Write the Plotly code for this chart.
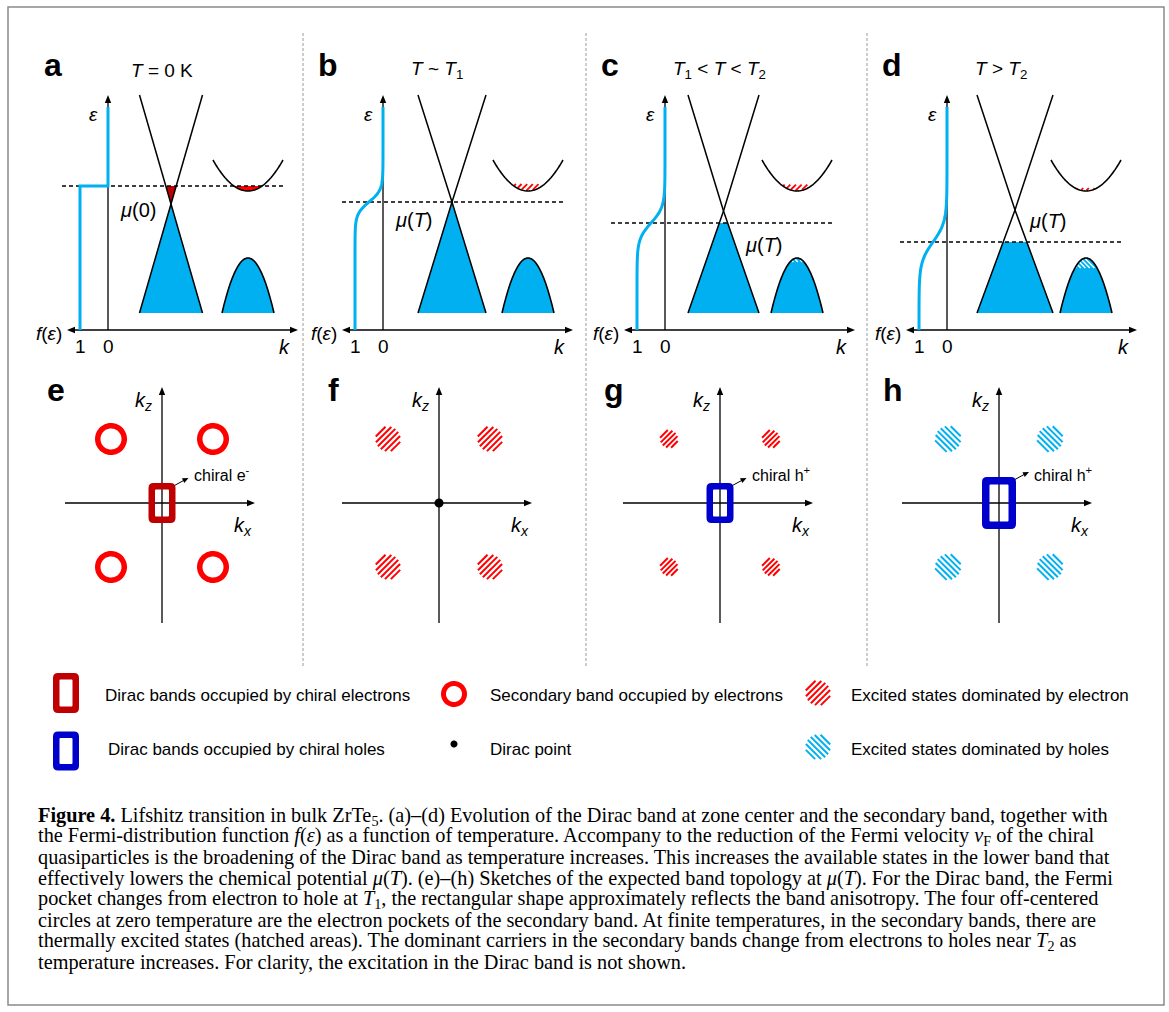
import numpy as np
import plotly.graph_objects as go

W, H = 1169, 1012
CYAN = "#00B0F0"
RED = "#FF0000"
DARK_RED = "#C00000"
BLUE = "#0000CC"
SANS = "Liberation Sans, Arial, sans-serif"
SERIF = "Liberation Serif, Times New Roman, serif"

# ---------------------------------------------------------------------------
# (a)-(d) band sketches. Energies are sketch units measured upward from the
# k axis; momenta are measured from the energy axis of each panel.
# ---------------------------------------------------------------------------
TOP_LETTERS = ["a", "b", "c", "d"]
TOP_TITLES = ["<i>T</i> = 0 K",
              "<i>T</i> ~ <i>T</i><sub>1</sub>",
              "<i>T</i><sub>1</sub> &lt; <i>T</i> &lt; <i>T</i><sub>2</sub>",
              "<i>T</i> &gt; <i>T</i><sub>2</sub>"]
MU_TEXT = ["<i>μ</i>(0)", "<i>μ</i>(<i>T</i>)", "<i>μ</i>(<i>T</i>)", "<i>μ</i>(<i>T</i>)"]
CHEM_POTENTIAL = [144, 128, 107, 88]      # μ(T)
THERMAL_WIDTH = [0, 6, 8, 10]             # k_B T entering f(ε)
DIRAC_E = [126, 128, 119, 120]            # Dirac point energy
DIRAC_K = [63, 69, 58.5, 68]              # Dirac point momentum
DIRAC_HW = [31.5, 34, 35.5, 38]           # cone half width at its ends
SECOND_K = [140, 145, 132, 139]           # momentum of the secondary bands
EXCITED_E_TOP = [0, 146, 145.5, 142]      # top of thermally excited electrons
EXCITED_H_DEPTH = [0, 0, 4, 10]           # depth of thermally excited holes

BAND_TOP, BAND_BOTTOM = 235, 17
UPPER_MIN, UPPER_RISE, UPPER_HALF = 139, 31, 35
LOWER_MAX, LOWER_DROP, LOWER_HALF = 72, 55, 26
F_ONE = 28            # length of f(ε) = 1 on the f axis
F_TOP = 223

# ---------------------------------------------------------------------------
# (e)-(h) Fermi surface sketches in the kx-kz plane
# ---------------------------------------------------------------------------
BOTTOM_LETTERS = ["e", "f", "g", "h"]
POCKET_KX, POCKET_KZ = 51, 64
POCKET_STYLE = ["ring", "hatch_e", "hatch_e", "hatch_h"]
POCKET_R = [16, 12.5, 9, 13]
DIRAC_POCKET = ["e", "point", "h", "h"]
DIRAC_POCKET_W = [27, 0, 27, 34]
DIRAC_POCKET_H = [40, 0, 40, 52]
CHIRAL_TEXT = ["chiral e<sup>-</sup>", "", "chiral h<sup>+</sup>", "chiral h<sup>+</sup>"]

LEGEND_ITEMS = [
    ("rect_e", "Dirac bands occupied by chiral electrons"),
    ("ring", "Secondary band occupied by electrons"),
    ("hatch_e", "Excited states dominated by electron"),
    ("rect_h", "Dirac bands occupied by chiral holes"),
    ("point", "Dirac point"),
    ("hatch_h", "Excited states dominated by holes"),
]

CAPTION = [
    "<b>Figure 4.</b> Lifshitz transition in bulk ZrTe<sub>5</sub>. (a)–(d) Evolution of the Dirac band at zone center and the secondary band, together with",
    "the Fermi-distribution function <i>f</i>(<i>ε</i>) as a function of temperature. Accompany to the reduction of the Fermi velocity <i>v</i><sub>F</sub> of the chiral",
    "quasiparticles is the broadening of the Dirac band as temperature increases. This increases the available states in the lower band that",
    "effectively lowers the chemical potential <i>μ</i>(<i>T</i>). (e)–(h) Sketches of the expected band topology at <i>μ</i>(<i>T</i>). For the Dirac band, the Fermi",
    "pocket changes from electron to hole at <i>T</i><sub>1</sub>, the rectangular shape approximately reflects the band anisotropy. The four off-centered",
    "circles at zero temperature are the electron pockets of the secondary band. At finite temperatures, in the secondary bands, there are",
    "thermally excited states (hatched areas). The dominant carriers in the secondary bands change from electrons to holes near <i>T</i><sub>2</sub> as",
    "temperature increases. For clarity, the excitation in the Dirac band is not shown.",
]

# ---------------------------------------------------------------------------
# layout geometry (pixels)
# ---------------------------------------------------------------------------
TOP_X0 = [108, 383, 665, 947]
TOP_BASE_Y = 330
BOT_X0 = [162, 439, 720, 999]
BOT_Y0 = 503

traces = []
annotations = []
shapes = []


def add_line(xs, ys, color="black", width=1.5, dash=None):
    traces.append(go.Scatter(x=list(xs), y=list(ys), mode="lines",
                             line=dict(color=color, width=width, dash=dash, simplify=False),
                             hoverinfo="skip", showlegend=False))


def add_fill(xs, ys, color):
    traces.append(go.Scatter(x=list(xs), y=list(ys), mode="lines", fill="toself",
                             fillcolor=color, line=dict(width=0, color=color, simplify=False),
                             hoverinfo="skip", showlegend=False))


def add_text(x, y, text, size=19, xanchor="center", family=SANS, color="black"):
    annotations.append(dict(x=x, y=y, xref="x", yref="y", text=text, showarrow=False,
                            xanchor=xanchor, yanchor="middle",
                            font=dict(family=family, size=size, color=color)))


def arrowhead(x, y, dx, dy, size=8, half=3.2, color="black"):
    n = np.hypot(dx, dy)
    dx, dy = dx / n, dy / n
    bx, by = x - size * dx, y - size * dy
    add_fill([x, bx - half * dy, bx + half * dy, x], [y, by + half * dx, by - half * dx, y], color)


def circle_pts(cx, cy, r, n=60):
    t = np.linspace(0, 2 * np.pi, n)
    return cx + r * np.cos(t), cy + r * np.sin(t)


def rrect_path(cx, cy, hw, hh, r):
    l, rgt, t, b = cx - hw, cx + hw, cy - hh, cy + hh
    return (f"M {l + r},{t} L {rgt - r},{t} Q {rgt},{t} {rgt},{t + r} "
            f"L {rgt},{b - r} Q {rgt},{b} {rgt - r},{b} L {l + r},{b} "
            f"Q {l},{b} {l},{b - r} L {l},{t + r} Q {l},{t} {l + r},{t} Z")


def hatch_segments(cx, cy, reach, inside, slope, spacing):
    """Parallel stripes ('/' for slope=+1, '\\' for slope=-1) clipped to a convex region."""
    u = np.array([1.0, -slope]) / np.sqrt(2)
    nrm = np.array([slope, 1.0]) / np.sqrt(2)
    xs, ys = [], []
    t = np.linspace(-reach, reach, 500)
    for d in np.arange(-reach + spacing / 2, reach, spacing):
        px = cx + d * nrm[0] + t * u[0]
        py = cy + d * nrm[1] + t * u[1]
        m = inside(px, py)
        if m.sum() < 2:
            continue
        idx = np.where(m)[0]
        xs += [px[idx[0]], px[idx[-1]], None]
        ys += [py[idx[0]], py[idx[-1]], None]
    return xs, ys


def hatched_circle(cx, cy, r, kind, width=2.0):
    color = RED if kind == "hatch_e" else CYAN
    slope = 1 if kind == "hatch_e" else -1
    spacing = 4.2 if r > 10 else 3.7
    xs, ys = hatch_segments(cx, cy, r,
                            lambda x, y: (x - cx) ** 2 + (y - cy) ** 2 <= r * r,
                            slope, spacing)
    add_line(xs, ys, color=color, width=width)


def ring(cx, cy, r_out, thick=5.5, color=RED):
    r_in = r_out - thick
    path = (f"M {cx - r_out},{cy} A {r_out},{r_out} 0 1,0 {cx + r_out},{cy} "
            f"A {r_out},{r_out} 0 1,0 {cx - r_out},{cy} Z")
    xo, yo = circle_pts(cx, cy, r_out, 72)
    xi, yi = circle_pts(cx, cy, r_in, 72)
    pts = " L ".join(f"{x:.2f},{y:.2f}" for x, y in zip(xo, yo))
    pin = " L ".join(f"{x:.2f},{y:.2f}" for x, y in zip(xi[::-1], yi[::-1]))
    shapes.append(dict(type="path", xref="x", yref="y", path=f"M {pts} Z M {pin} Z",
                       fillcolor=color, line=dict(width=0), fillrule="evenodd", layer="above"))


def pocket_rect(cx, cy, w, h, color, thick=6.5):
    outer = rrect_path(cx, cy, w / 2, h / 2, 5)
    inner = rrect_path(cx, cy, w / 2 - thick, h / 2 - thick, 1)
    shapes.append(dict(type="path", xref="x", yref="y", path=outer + " " + inner,
                       fillcolor=color, line=dict(width=0), fillrule="evenodd", layer="above"))


# ---------------------------------------------------------------------------
# (a)-(d)
# ---------------------------------------------------------------------------
for i in range(4):
    x0 = TOP_X0[i]
    X = lambda k, x0=x0: x0 + np.asarray(k, dtype=float)
    Y = lambda e: TOP_BASE_Y - np.asarray(e, dtype=float)
    mu, kt = CHEM_POTENTIAL[i], THERMAL_WIDTH[i]
    kd, ed, hw = DIRAC_K[i], DIRAC_E[i], DIRAC_HW[i]
    ks = SECOND_K[i]

    # filled lower Dirac cone (occupied up to μ)
    if mu >= ed:
        add_fill(X([kd, kd - hw, kd + hw, kd]), Y([ed, BAND_BOTTOM, BAND_BOTTOM, ed]), CYAN)
        hu = hw * (mu - ed) / (BAND_TOP - ed)
        if hu > 0:
            add_fill(X([kd, kd - hu, kd + hu, kd]), Y([ed, mu, mu, ed]), DARK_RED)
    else:
        hm = hw * (ed - mu) / (ed - BAND_BOTTOM)
        add_fill(X([kd - hm, kd - hw, kd + hw, kd + hm, kd - hm]),
                 Y([mu, BAND_BOTTOM, BAND_BOTTOM, mu, mu]), CYAN)

    # lower secondary band (fully occupied)
    kk = np.linspace(-LOWER_HALF, LOWER_HALF, 60)
    ee = LOWER_MAX - LOWER_DROP * (kk / LOWER_HALF) ** 2
    add_fill(X(ks + kk), Y(ee), CYAN)

    # upper secondary band: occupied part at T = 0
    if mu > UPPER_MIN:
        kf = UPPER_HALF * np.sqrt((mu - UPPER_MIN) / UPPER_RISE)
        k2 = np.linspace(-kf, kf, 30)
        e2 = UPPER_MIN + UPPER_RISE * (k2 / UPPER_HALF) ** 2
        add_fill(X(ks + k2), Y(e2), RED)

    # energy axis, k axis and μ line
    add_line([x0, x0], [Y(0), Y(BAND_TOP) + 6], width=1.3)
    arrowhead(x0, Y(BAND_TOP), 0, -1)
    add_line([x0 - 35, x0 + 183], [Y(0), Y(0)], width=1.3)
    arrowhead(x0 - 41, Y(0), -1, 0)
    arrowhead(x0 + 190, Y(0), 1, 0)
    add_line([x0 + ks - 186, x0 + ks + 38], [Y(mu), Y(mu)], width=1.4, dash="4px,3px")

    # Fermi distribution f(ε)
    if kt == 0:
        add_line(X([0, 0, -F_ONE, -F_ONE]), Y([F_TOP, mu, mu, 0]), color=CYAN, width=3)
    else:
        e = np.linspace(0, F_TOP, 300)
        f = 1.0 / (1.0 + np.exp((e - mu) / kt))
        add_line(X(-F_ONE * f), Y(e), color=CYAN, width=3)

    # thermal excitations
    if EXCITED_E_TOP[i] > 0:
        etop = EXCITED_E_TOP[i]
        cx, cy = float(X(ks)), float(Y((UPPER_MIN + etop) / 2))
        ins = lambda x, y, x0=x0, ks=ks, etop=etop: (
            ((TOP_BASE_Y - y) >= UPPER_MIN + UPPER_RISE * ((x - x0 - ks) / UPPER_HALF) ** 2 + 0.6)
            & ((TOP_BASE_Y - y) <= etop))
        xs, ys = hatch_segments(cx, cy, 25, ins, 1, 4.0)
        add_line(xs, ys, color=RED, width=1.8)
    if EXCITED_H_DEPTH[i] > 0:
        ebot = LOWER_MAX - EXCITED_H_DEPTH[i]
        cx, cy = float(X(ks)), float(Y(LOWER_MAX - EXCITED_H_DEPTH[i] / 2))
        ins = lambda x, y, x0=x0, ks=ks, ebot=ebot: (
            ((TOP_BASE_Y - y) <= LOWER_MAX - LOWER_DROP * ((x - x0 - ks) / LOWER_HALF) ** 2 - 1.0)
            & ((TOP_BASE_Y - y) >= ebot))
        xs, ys = hatch_segments(cx, cy, 20, ins, -1, 3.2)
        add_line(xs, ys, color="white", width=1.4)

    # Dirac cone lines
    add_line(X([kd - hw, kd, kd + hw]), Y([BAND_TOP, ed, BAND_BOTTOM]), width=1.5)
    add_line(X([kd + hw, kd, kd - hw]), Y([BAND_TOP, ed, BAND_BOTTOM]), width=1.5)

    # secondary band outlines
    ku = np.linspace(-UPPER_HALF, UPPER_HALF, 60)
    add_line(X(ks + ku), Y(UPPER_MIN + UPPER_RISE * (ku / UPPER_HALF) ** 2), width=1.6)
    add_line(X(ks + kk), Y(ee), width=1.6)

    # labels
    add_text(x0 - 55, 65, f"<b>{TOP_LETTERS[i]}</b>", size=32)
    add_text(x0 + 54, 70, TOP_TITLES[i], size=19)
    add_text(x0 - 15, 114, "<i>ε</i>", size=19)
    add_text(x0 - 44, 333, "<i>f</i>(<i>ε</i>)", size=19, xanchor="right")
    add_text(x0 - F_ONE, 346, "1", size=19)
    add_text(x0, 346, "0", size=19)
    add_text(x0 + 176, 347, "<i>k</i>", size=20)

MU_LABEL_POS = [(10, 210), (10, 220), (78, 245), (80, 221)]
for i in range(4):
    dx, y = MU_LABEL_POS[i]
    add_text(TOP_X0[i] + dx, y, MU_TEXT[i], size=20, xanchor="left")

# ---------------------------------------------------------------------------
# (e)-(h)
# ---------------------------------------------------------------------------
for i in range(4):
    ox, oy = BOT_X0[i], BOT_Y0
    add_line([ox, ox], [623, 393], width=1.3)
    arrowhead(ox, 387, 0, -1)
    add_line([ox - 97, ox + 87], [oy, oy], width=1.3)
    arrowhead(ox + 93, oy, 1, 0)
    add_text(ox - 106, 390, f"<b>{BOTTOM_LETTERS[i]}</b>", size=32)
    add_text(ox - 19, 401, "<i>k<sub>z</sub></i>", size=20)
    add_text(ox + 81, 526, "<i>k<sub>x</sub></i>", size=20)

    for sx in (-1, 1):
        for sz in (-1, 1):
            cx, cy = ox + sx * POCKET_KX, oy + sz * POCKET_KZ
            if POCKET_STYLE[i] == "ring":
                ring(cx, cy, POCKET_R[i])
            else:
                hatched_circle(cx, cy, POCKET_R[i], POCKET_STYLE[i])

    if DIRAC_POCKET[i] == "point":
        xs, ys = circle_pts(ox, oy, 4.5)
        add_fill(xs, ys, "black")
    else:
        w, h = DIRAC_POCKET_W[i], DIRAC_POCKET_H[i]
        color = DARK_RED if DIRAC_POCKET[i] == "e" else BLUE
        pocket_rect(ox, oy, w, h, color, thick=6.5 if w < 30 else 7.5)
        tx, ty = ox + w / 2 - 2, oy - h / 2 + 3
        add_line([tx, tx + 11], [ty, ty - 6], width=1.0)
        arrowhead(tx + 15, ty - 8, 2, -1, size=6, half=2.6)
        add_text(tx + 18, 474, CHIRAL_TEXT[i], size=16, xanchor="left")

# ---------------------------------------------------------------------------
# legend
# ---------------------------------------------------------------------------
LEG_X = [66, 454, 818]
LEG_Y = [694, 749]
LEG_TEXT_X = [103, 488, 849]
for n, (kind, label) in enumerate(LEGEND_ITEMS):
    col, row = n % 3, n // 3
    cx, cy = LEG_X[col], LEG_Y[row]
    if kind == "rect_e":
        pocket_rect(cx, cy - 1, 26, 40, DARK_RED, thick=6.5)
    elif kind == "rect_h":
        pocket_rect(cx, cy + 2, 26, 39, BLUE, thick=6.5)
    elif kind == "ring":
        ring(cx, cy, 13, thick=5)
    elif kind == "point":
        xs, ys = circle_pts(cx, cy - 5, 3.5)
        add_fill(xs, ys, "black")
    else:
        hatched_circle(cx, cy - (1 if row == 0 else 2), 12.5, kind)
    add_text(LEG_TEXT_X[col] + (3 if row == 1 and col == 0 else 0), cy + 1 - (0 if row == 0 else 1),
             label, size=17, xanchor="left")

# ---------------------------------------------------------------------------
# caption
# ---------------------------------------------------------------------------
for j, line_txt in enumerate(CAPTION):
    add_text(36, 816 + 20.9 * j, line_txt, size=20.3, xanchor="left", family=SERIF)

# frame and panel separators
shapes.append(dict(type="rect", xref="x", yref="y", x0=8, y0=7, x1=1164, y1=1005,
                   line=dict(color="#8a8a8a", width=1.5), layer="below"))
for xd in [303, 586, 867]:
    shapes.append(dict(type="line", xref="x", yref="y", x0=xd, x1=xd, y0=33, y1=668,
                       line=dict(color="#9a9a9a", width=1, dash="3px,2px"), layer="below"))

fig = go.Figure(traces)
fig.update_layout(
    width=W, height=H, margin=dict(l=0, r=0, t=0, b=0),
    paper_bgcolor="white", plot_bgcolor="white",
    xaxis=dict(range=[0, W], visible=False, fixedrange=True),
    yaxis=dict(range=[H, 0], visible=False, fixedrange=True),
    annotations=annotations, shapes=shapes, showlegend=False,
)
fig.write_html("out.html")
